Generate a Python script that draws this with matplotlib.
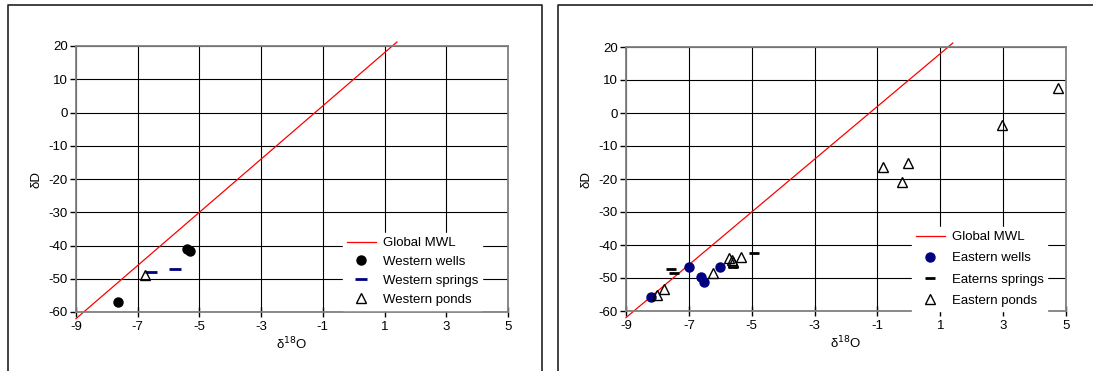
import matplotlib
matplotlib.use("Agg")
from matplotlib import pyplot as plt
from matplotlib.lines import Line2D
import numpy as np

plt.rcParams['font.family'] = ['Liberation Sans', 'DejaVu Sans']
plt.rcParams['font.size'] = 9
plt.rcParams['axes.unicode_minus'] = False

# Global meteoric water line: dD = 8 * d18O + 10
mwl_x = np.array([-9.0, 1.4])
mwl_y = 8 * mwl_x + 10

# western side
w_wells_x = [-7.63, -5.41, -5.31]
w_wells_y = [-57.0, -41.0, -41.6]
w_springs_x = [-6.58, -5.79]
w_springs_y = [-47.9, -47.2]
w_ponds_x = [-6.76]
w_ponds_y = [-48.8]

# eastern side
e_wells_x = [-8.20, -6.99, -6.61, -6.52, -6.01]
e_wells_y = [-55.7, -46.6, -49.8, -51.1, -46.6]
e_springs_x = [-7.58, -7.47, -5.59, -4.93]
e_springs_y = [-47.2, -48.4, -46.6, -42.3]
e_ponds_x = [-8.02, -7.79, -6.24, -5.72, -5.64, -5.61, -5.34, -0.81, -0.04, -0.23, 2.97, 4.75]
e_ponds_y = [-55.3, -53.3, -48.4, -43.8, -44.6, -45.2, -43.5, -16.3, -15.0, -20.9, -3.7, 7.7]

xticks = [-9, -7, -5, -3, -1, 1, 3, 5]
yticks = [-60, -50, -40, -30, -20, -10, 0, 10, 20]

W, H = 1093, 371
fig = plt.figure(figsize=(W / 100, H / 100), dpi=100)

# outer frames of the two chart panels
for x0, x1 in [(8, 542), (558, 1100)]:
    fig.add_artist(Line2D([x0 / W, x0 / W, x1 / W, x1 / W],
                          [-0.1, 1 - 5 / H, 1 - 5 / H, -0.1],
                          color='#222222', lw=1.2, transform=fig.transFigure))


def setup(ax):
    ax.set_xlim(-9, 5)
    ax.set_ylim(-60, 20)
    ax.set_xticks(xticks)
    ax.set_yticks(yticks)
    ax.grid(True, color='black', lw=0.8)
    ax.set_axisbelow(True)
    for s in ax.spines.values():
        s.set_color('#808080')
        s.set_linewidth(1.3)
    ax.tick_params(axis='x', direction='inout', length=7, width=1, color='black', labelsize=9.5, pad=3)
    ax.tick_params(axis='y', direction='out', length=4, width=1, color='black', labelsize=9.5, pad=2)
    ax.set_ylabel('δD', fontsize=9.5, labelpad=4)
    ax.set_xlabel('δ$^{18}$O', fontsize=9.5, labelpad=2)


ax1 = fig.add_axes([76 / W, 1 - 312 / H, 432 / W, 266 / H])
setup(ax1)
ax1.plot(mwl_x, mwl_y, color='red', lw=0.9, clip_on=False, label='Global MWL')
ax1.plot(w_wells_x, w_wells_y, 'o', color='black', ms=6.5, label='Western wells')
ax1.plot(w_springs_x, w_springs_y, '_', color='#000080', ms=8, mew=2, label='Western springs')
ax1.plot(w_ponds_x, w_ponds_y, '^', mfc='none', mec='black', ms=7, mew=1, label='Western ponds')
ax1.legend(loc='upper left', bbox_to_anchor=(343 / W, 1 - 233 / H),
           bbox_transform=fig.transFigure, frameon=True, fancybox=False,
           edgecolor='white', framealpha=1, fontsize=9.5, handlelength=2.2,
           handletextpad=0.5, labelspacing=0.5, borderpad=0.3, borderaxespad=0)

ax2 = fig.add_axes([626 / W, 1 - 311 / H, 440 / W, 264 / H])
setup(ax2)
ax2.plot(mwl_x, mwl_y, color='red', lw=0.9, clip_on=False, label='Global MWL')
ax2.plot(e_wells_x, e_wells_y, 'o', color='#000080', ms=6.5, label='Eastern wells')
ax2.plot(e_springs_x, e_springs_y, '_', color='black', ms=7, mew=2, label='Eaterns springs')
ax2.plot(e_ponds_x, e_ponds_y, '^', mfc='none', mec='black', ms=7, mew=1, label='Eastern ponds')
ax2.legend(loc='upper left', bbox_to_anchor=(912 / W, 1 - 227 / H),
           bbox_transform=fig.transFigure, frameon=True, fancybox=False,
           edgecolor='white', framealpha=1, fontsize=9.5, handlelength=2.2,
           handletextpad=0.5, labelspacing=0.68, borderpad=0.3, borderaxespad=0)

fig.savefig('out.png', dpi=100)
